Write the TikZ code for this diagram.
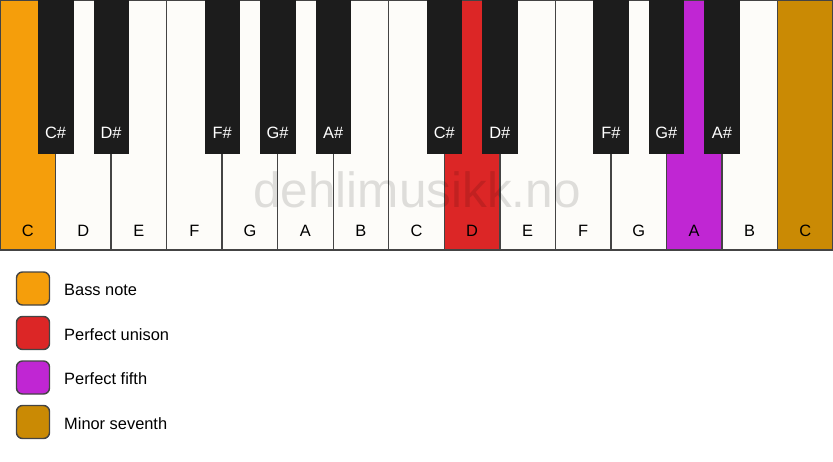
\documentclass[tikz,border=0pt]{standalone}
\usepackage{fontspec}
\setmainfont{Liberation Sans}
\definecolor{keywhite}{HTML}{FDFCF9}
\definecolor{keyblack}{HTML}{1C1C1C}
\definecolor{keyedge}{HTML}{444444}
\definecolor{bassnote}{HTML}{F59E0B}
\definecolor{unison}{HTML}{DC2626}
\definecolor{fifth}{HTML}{C026D3}
\definecolor{seventh}{HTML}{CA8A04}
\tikzset{
  whitekey/.style={draw=keyedge, line width=1.4pt, minimum width=55.53pt, minimum height=250pt, inner sep=0pt},
  blackkey/.style={fill=keyblack, draw=keyblack, line width=0.5pt, minimum width=34.5pt, minimum height=153pt, inner sep=0pt},
  keylabel/.style={font=\fontsize{16.4}{19}\selectfont, inner sep=0pt},
  legendbox/.style={draw=keyedge, line width=1.4pt, rounded corners=6pt, minimum size=33pt, inner sep=0pt},
  legendtext/.style={font=\fontsize{16.4}{19}\selectfont, anchor=west, inner sep=0pt}
}
\begin{document}
\begin{tikzpicture}[x=1pt, y=-1pt]
\useasboundingbox (0,0) rectangle (833,461);

% white keys
\foreach \n/\c [count=\i from 0] in {C/bassnote, D/keywhite, E/keywhite, F/keywhite, G/keywhite, A/keywhite, B/keywhite,
    C/keywhite, D/unison, E/keywhite, F/keywhite, G/keywhite, A/fifth, B/keywhite, C/seventh}
{
  \node[whitekey, fill=\c] (w\i) at (\i*55.533+27.767, 125) {};
  \node[keylabel] (wl\i) at ([yshift=20pt]w\i.south) {\n};
}

% watermark
\node[font=\fontsize{49.5}{55}\selectfont, text=black, text opacity=0.12, anchor=base, inner sep=0pt] (mark) at (417, 207) {dehlimusikk.no};

% black keys
\foreach \n/\i in {C\#/1, D\#/2, F\#/4, G\#/5, A\#/6, C\#/8, D\#/9, F\#/11, G\#/12, A\#/13}
{
  \node[blackkey] (b\i) at (\i*55.533, 76.5) {};
  \node[keylabel, text=white] (bl\i) at ([yshift=20pt]b\i.south) {\n};
}

% legend
\foreach \t/\c [count=\j from 0] in {Bass note/bassnote, Perfect unison/unison, Perfect fifth/fifth, Minor seventh/seventh}
{
  \node[legendbox, fill=\c] (lb\j) at (33, 288.5+\j*44.5) {};
  \node[legendtext] (lt\j) at (64, 290+\j*44.5) {\t};
}
\end{tikzpicture}
\end{document}
